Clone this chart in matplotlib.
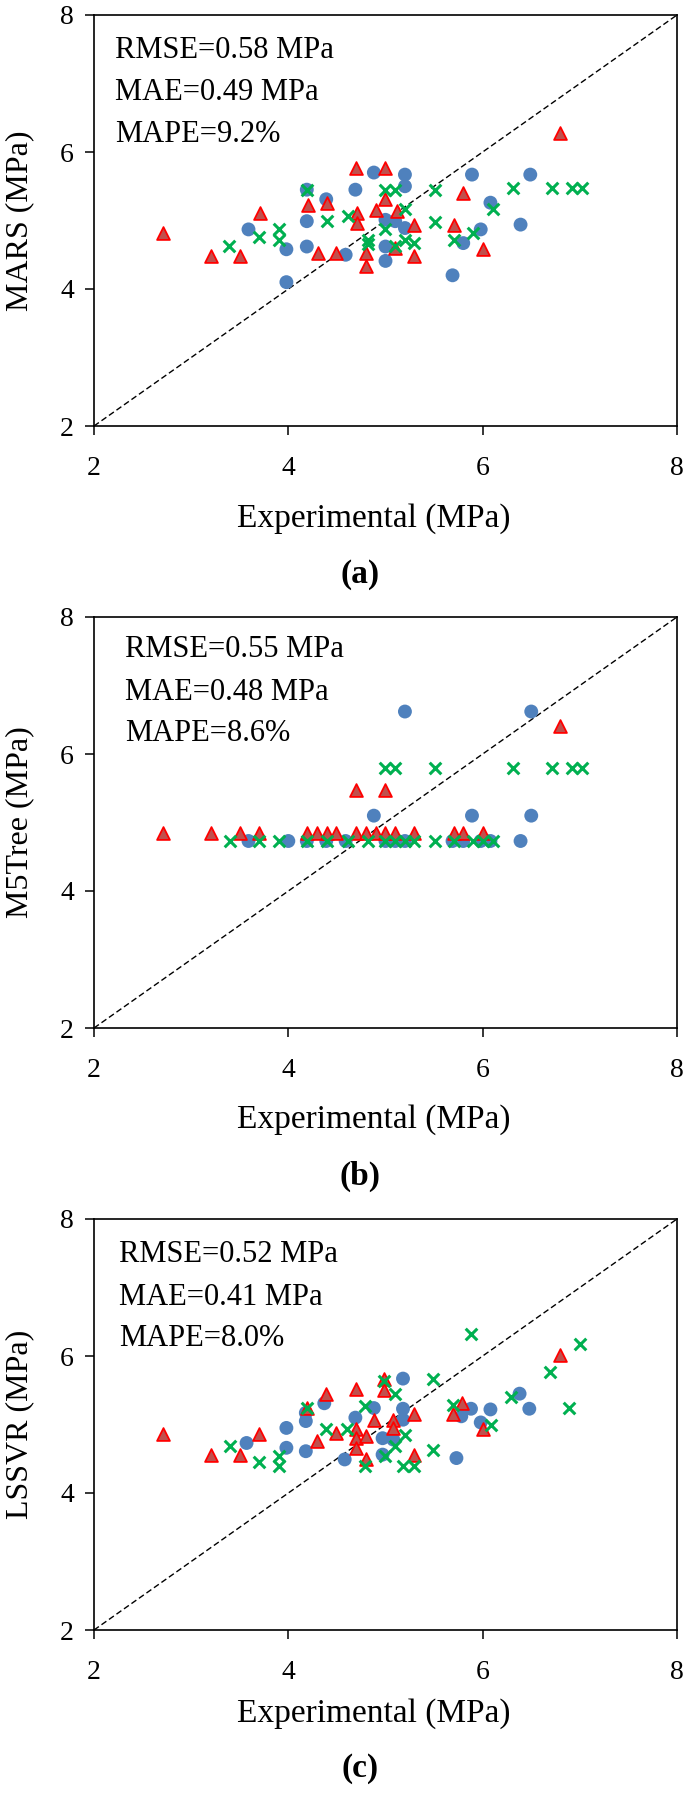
import matplotlib
matplotlib.use("Agg")
import matplotlib.pyplot as plt

plt.rcParams['font.family'] = 'Liberation Serif'

# ---------------- panel (a) MARS ----------------
mars_blue_x = [4.88, 5.20, 5.20, 5.89, 6.49, 4.19, 4.69, 4.39, 6.08, 4.19, 5.00, 5.10,
               3.59, 5.20, 5.98, 6.39, 3.98, 4.19, 5.00, 4.59, 5.00, 5.80, 3.98, 5.69]
mars_blue_y = [5.70, 5.67, 5.50, 5.67, 5.67, 5.45, 5.45, 5.31, 5.26, 4.99, 5.01, 4.99,
               4.87, 4.89, 4.87, 4.94, 4.58, 4.62, 4.62, 4.50, 4.41, 4.67, 4.10, 4.20]
mars_red_x = [2.71, 3.20, 3.50, 3.71, 4.20, 4.40, 4.31, 4.49, 4.70, 5.00, 5.00, 4.90,
              4.71, 4.71, 5.12, 5.29, 4.80, 4.80, 5.10, 5.29, 5.71, 5.80, 6.00, 6.80]
mars_red_y = [4.82, 4.48, 4.48, 5.11, 5.23, 5.26, 4.53, 4.53, 5.77, 5.77, 5.31, 5.16,
              5.11, 4.97, 5.14, 4.94, 4.53, 4.33, 4.60, 4.48, 4.94, 5.40, 4.58, 6.28]
mars_green_x = [3.39, 3.70, 3.90, 3.90, 4.19, 4.40, 4.61, 5.00, 5.10, 5.51, 5.20, 5.00, 4.82,
                4.82, 5.10, 5.20, 5.29, 5.51, 5.71, 5.90, 6.11, 6.31, 6.71, 6.92, 7.02]
mars_green_y = [4.63, 4.76, 4.88, 4.72, 5.45, 4.99, 5.07, 5.45, 5.45, 5.45, 5.17, 4.87, 4.72,
                4.65, 4.63, 4.72, 4.67, 4.98, 4.71, 4.82, 5.17, 5.48, 5.48, 5.48, 5.48]

# ---------------- panel (b) M5Tree ----------------
m5_blue_x = [5.20, 6.50, 4.88, 5.89, 6.50, 3.59, 4.00, 4.19, 4.39, 4.59, 5.00, 5.10,
             5.20, 5.69, 5.80, 5.98, 6.08, 6.39]
m5_blue_y = [6.62, 6.62, 5.10, 5.10, 5.10, 4.73, 4.73, 4.73, 4.73, 4.73, 4.73, 4.73,
             4.73, 4.73, 4.73, 4.73, 4.73, 4.73]
m5_red_x = [2.71, 3.20, 3.50, 3.70, 4.19, 4.30, 4.40, 4.49, 4.70, 4.80, 4.90, 5.00,
            5.10, 5.29, 5.71, 5.80, 6.00, 4.70, 5.00, 6.80]
m5_red_y = [4.84, 4.84, 4.84, 4.84, 4.84, 4.84, 4.84, 4.84, 4.84, 4.84, 4.84, 4.84,
            4.84, 4.84, 4.84, 4.84, 4.84, 5.47, 5.47, 6.41]
m5_green_x = [3.40, 3.70, 3.90, 4.19, 4.40, 4.61, 4.82, 5.00, 5.10, 5.20, 5.29, 5.51,
              5.71, 5.90, 6.00, 6.11, 5.00, 5.10, 5.51, 6.31, 6.71, 6.92, 7.02]
m5_green_y = [4.73, 4.73, 4.73, 4.73, 4.73, 4.73, 4.73, 4.73, 4.73, 4.73, 4.73, 4.73,
              4.73, 4.73, 4.73, 4.73, 5.80, 5.80, 5.80, 5.80, 5.80, 5.80, 5.80]

# ---------------- panel (c) LSSVR ----------------
ls_blue_x = [5.18, 6.38, 6.48, 6.08, 5.88, 5.78, 5.98, 4.88, 5.18, 5.18, 4.69, 4.37,
             4.18, 4.18, 3.98, 3.98, 4.18, 3.57, 4.58, 4.97, 4.97, 5.08, 5.73]
ls_blue_y = [5.67, 5.45, 5.23, 5.22, 5.23, 5.12, 5.03, 5.24, 5.23, 5.07, 5.10, 5.31,
             5.17, 5.05, 4.95, 4.66, 4.61, 4.73, 4.49, 4.80, 4.56, 4.78, 4.51]
ls_red_x = [2.71, 3.20, 3.50, 3.70, 4.19, 4.39, 4.29, 4.49, 4.70, 4.70, 4.70, 4.70, 4.80,
            4.80, 4.88, 4.98, 4.98, 5.08, 5.08, 5.29, 5.29, 5.69, 5.79, 6.00, 6.80]
ls_red_y = [4.86, 4.55, 4.55, 4.86, 5.24, 5.45, 4.76, 4.88, 5.52, 4.94, 4.81, 4.66, 4.83,
            4.49, 5.06, 5.66, 5.51, 5.06, 4.95, 5.16, 4.56, 5.16, 5.31, 4.93, 6.01]
ls_green_x = [3.40, 3.70, 3.90, 3.90, 4.19, 4.39, 4.60, 4.79, 4.79, 4.98, 5.10, 5.20, 5.10,
              5.00, 5.18, 5.29, 5.49, 5.49, 5.69, 6.09, 6.29, 6.69, 6.89, 7.00, 5.88]
ls_green_y = [4.69, 4.45, 4.54, 4.39, 5.24, 4.93, 4.93, 5.27, 4.39, 5.64, 5.45, 4.85, 4.69,
              4.54, 4.40, 4.39, 5.66, 4.63, 5.28, 4.99, 5.40, 5.76, 5.24, 6.17, 6.32]

panel_names = ["MARS", "M5Tree", "LSSVR"]
panel_tags = ["(a)", "(b)", "(c)"]
metrics = [["RMSE=0.58 MPa", "MAE=0.49 MPa", "MAPE=9.2%"],
           ["RMSE=0.55 MPa", "MAE=0.48 MPa", "MAPE=8.6%"],
           ["RMSE=0.52 MPa", "MAE=0.41 MPa", "MAPE=8.0%"]]

series = [
    (mars_blue_x, mars_blue_y, mars_red_x, mars_red_y, mars_green_x, mars_green_y),
    (m5_blue_x, m5_blue_y, m5_red_x, m5_red_y, m5_green_x, m5_green_y),
    (ls_blue_x, ls_blue_y, ls_red_x, ls_red_y, ls_green_x, ls_green_y),
]

# layout in pixels (figure is 685 x 1793 at dpi 100)
W, H = 685, 1793
ax_left, ax_right = 94, 677
ax_top = [15, 617, 1219]
ax_h = 411
metric_x = [115, 125, 119]
metric_dy = [[43, 85, 127], [40, 83, 124], [43, 86, 127]]
xlabel_base = [527, 1128, 1722]
tag_y = [575, 1176, 1769]


def fx(px):
    return px / W


def fy(py):
    return 1 - py / H


fig = plt.figure(figsize=(W / 100, H / 100), dpi=100)

for i in range(3):
    bx, by, rx, ry, gx, gy = series[i]
    ax = fig.add_axes([fx(ax_left), fy(ax_top[i] + ax_h), (ax_right - ax_left) / W, ax_h / H])
    ax.plot([2, 8], [2, 8], color='black', linestyle=(0, (4.3, 2.3)), linewidth=1.0, zorder=1)
    ax.scatter(bx, by, s=100, marker='o', color='#4F81BD', edgecolors='none', zorder=2)
    ax.scatter(rx, ry, s=85, marker='^', facecolor='#C0504D', edgecolors='#FF0000',
               linewidths=1.3, zorder=3)
    ax.scatter(gx, gy, s=70, marker='x', color='#00B050', linewidths=2.2, zorder=4)

    ax.set_xlim(2, 8)
    ax.set_ylim(2, 8)
    ax.set_xticks([2, 4, 6, 8])
    ax.set_yticks([2, 4, 6, 8])
    ax.tick_params(direction='out', length=6.5, width=1.1, labelsize=20)
    ax.tick_params(axis='x', pad=15)
    ax.tick_params(axis='y', pad=8)
    for sp in ax.spines.values():
        sp.set_linewidth(1.2)

    for k, line in enumerate(metrics[i]):
        fig.text(fx(metric_x[i]), fy(ax_top[i] + metric_dy[i][k]), line,
                 fontsize=22, va='baseline', ha='left')

    fig.text(fx(237), fy(xlabel_base[i]), "Experimental (MPa)", fontsize=24,
             ha='left', va='baseline')
    fig.text(fx(20), fy(ax_top[i] + ax_h / 2), panel_names[i] + " (MPa)", fontsize=23,
             rotation=90, ha='center', va='center')
    fig.text(fx(360), fy(tag_y[i]), panel_tags[i], fontsize=24,
             fontweight='bold', ha='center', va='center')

fig.savefig("out.png", dpi=100)
